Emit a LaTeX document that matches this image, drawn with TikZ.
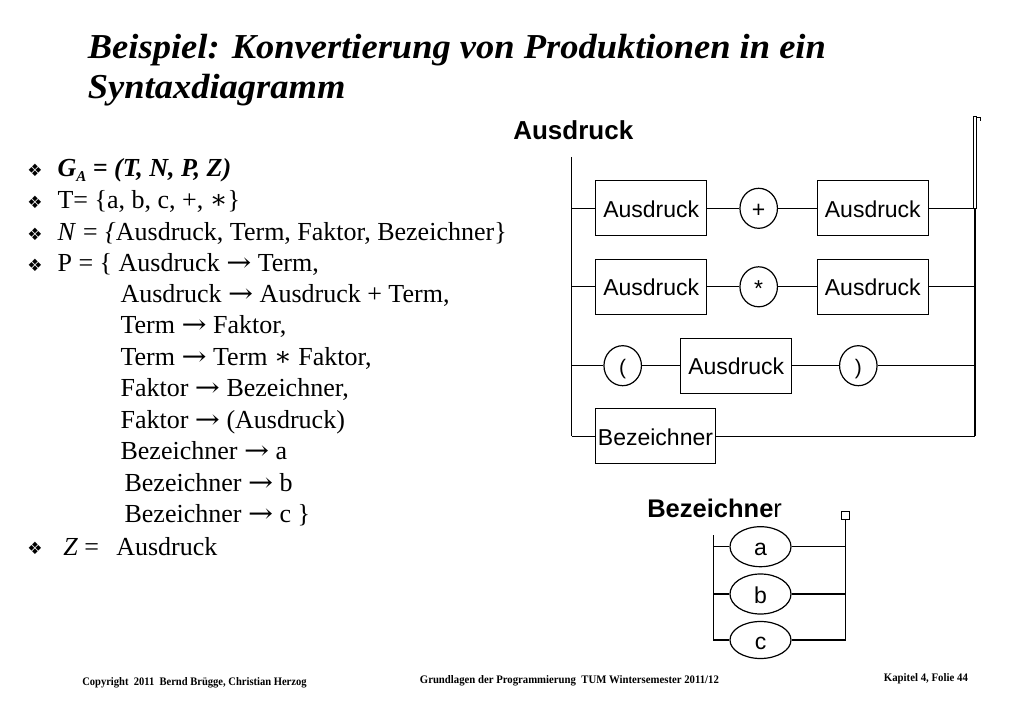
\documentclass[tikz,border=0pt]{standalone}
\usepackage{graphicx}
\usepackage{fontspec}
\setmainfont{Liberation Serif}
\newfontfamily\arialf{Liberation Sans}
\newfontfamily\djvf{DejaVu Sans}
\newfontfamily\djvs{DejaVu Serif}
\usetikzlibrary{shapes.geometric}
\newsavebox\boxTA
\newsavebox\boxTB
\newsavebox\boxFA
\newsavebox\boxFB
\newsavebox\boxFC
\newcommand\prarrow{{\djvs\scalebox{1.15}[1]{→}}}
\newcommand\prast{{\djvs ∗}}
\begin{document}
\sbox\boxTA{\fontsize{35}{40}\selectfont\bfseries\itshape Beispiel: Konvertierung von Produktionen in ein}%
\sbox\boxTB{\fontsize{35}{40}\selectfont\bfseries\itshape Syntaxdiagramm}%
\sbox\boxFA{\fontsize{11.5}{12}\selectfont\bfseries Copyright\ \ 2011\ \ Bernd Brügge, Christian Herzog}%
\sbox\boxFB{\fontsize{11.5}{12}\selectfont\bfseries Grundlagen der Programmierung\ \ TUM Wintersemester 2011/12}%
\sbox\boxFC{\fontsize{11.5}{12}\selectfont\bfseries Kapitel 4, Folie 44}%
\pgfmathsetmacro\tsx{738/\the\wd\boxTA}%
\pgfmathsetmacro\fsa{224.3/\the\wd\boxFA}%
\pgfmathsetmacro\fsb{299/\the\wd\boxFB}%
\pgfmathsetmacro\fsc{84/\the\wd\boxFC}%
\begin{tikzpicture}[x=1pt,y=-1pt,line width=1.2pt,
  sansf/.style={font=\arialf\fontsize{23}{23}\selectfont},
  ntbox/.style={draw,rectangle,minimum width=111pt,minimum height=55pt,inner sep=0pt,
    text height=18pt,text depth=0pt,sansf},
  tmcirc/.style={draw,ellipse,minimum width=37.5pt,minimum height=40pt,inner sep=0pt,
    text height=18pt,text depth=0pt,sansf},
  tmell/.style={draw,ellipse,minimum width=61pt,minimum height=40pt,inner sep=0pt,
    text height=18pt,text depth=0pt,sansf},
  ltxt/.style={anchor=base west,inner sep=0pt,font=\fontsize{26}{30}\selectfont},
  bul/.style={inner sep=0pt,font=\djvf\fontsize{17}{17}\selectfont},
  ftxt/.style={anchor=base west,inner sep=0pt},
  dlabel/.style={anchor=base west,inner sep=0pt}
]
\useasboundingbox[fill=white] (0,0) rectangle (1023,708);

% ---------- title ----------
\node[ftxt] (title1) at (87.3,58.3) {\scalebox{\tsx}[1]{\usebox\boxTA}};
\node[ftxt] (title2) at (87.3,99) {\scalebox{\tsx}[1]{\usebox\boxTB}};

% ---------- footer ----------
\node[ftxt] (foot1) at (81.7,685.5) {\scalebox{\fsa}[1]{\usebox\boxFA}};
\node[ftxt] (foot2) at (419.3,683.5) {\scalebox{\fsb}[1]{\usebox\boxFB}};
\node[ftxt] (foot3) at (883.3,681.5) {\scalebox{\fsc}[1]{\usebox\boxFC}};

% ---------- left list ----------
\node[bul] (b1) at (35,170) {❖};
\node[bul] (b2) at (35,202.5) {❖};
\node[bul] (b3) at (35,234.5) {❖};
\node[bul] (b4) at (35,265.5) {❖};
\node[bul] (b5) at (35,548.5) {❖};
\node[ltxt] (l1) at (57,176.5) {\bfseries\itshape G\raisebox{-5.5pt}{\fontsize{15}{15}\selectfont A} = (T, N, P, Z)};
\node[ltxt] (l2) at (57,209) {T= \{a, b, c, +, \prast\}};
\node[ltxt] (l3) at (57,241) {\textit{N = \{}Ausdruck, Term, Faktor, Bezeichner\}};
\node[ltxt] (l4) at (57,272) {P = \{ Ausdruck \prarrow{} Term,};
\node[ltxt] (l5) at (120,303) {Ausdruck \prarrow{} Ausdruck + Term,};
\node[ltxt] (l6) at (120,334) {Term \prarrow{} Faktor,};
\node[ltxt] (l7) at (120,365.5) {Term \prarrow{} Term \prast{} Faktor,};
\node[ltxt] (l8) at (120,397) {Faktor \prarrow{} Bezeichner,};
\node[ltxt] (l9) at (120,428.5) {Faktor \prarrow{} (Ausdruck)};
\node[ltxt] (l10) at (120,459.5) {Bezeichner \prarrow{} a};
\node[ltxt] (l11) at (124,491) {Bezeichner \prarrow{} b};
\node[ltxt] (l12) at (124,522) {Bezeichner \prarrow{} c \}};
\node[ltxt] (l13) at (62.7,555) {\textit{Z} =};
\node[ltxt] (l13b) at (115.7,555) {Ausdruck};

% ---------- Ausdruck diagram ----------
\node[dlabel,font=\arialf\bfseries\fontsize{26}{26}\selectfont] (labA) at (512.7,139.3) {Ausdruck};

\node[ntbox] (a1) at (651.2,208.3) {Ausdruck};
\node[tmcirc] (plus) at (758.7,208.3) {+};
\node[ntbox] (a2) at (872.8,208.3) {Ausdruck};

\node[ntbox] (b1n) at (651.2,286.8) {Ausdruck};
\node[tmcirc,text height=20pt] (star) at (758.7,286.8) {*};
\node[ntbox] (b2n) at (872.8,286.8) {Ausdruck};

\node[tmcirc,font=\arialf\fontsize{21}{21}\selectfont,text height=17pt] (lp) at (622.7,365.7) {(};
\node[ntbox] (a3) at (736.2,365.7) {Ausdruck};
\node[tmcirc,font=\arialf\fontsize{21}{21}\selectfont,text height=17pt] (rp) at (858.3,365.7) {)};

\node[ntbox,minimum width=119.6pt] (bez) at (655.5,436.2) {Bezeichner};

\coordinate (Ltop) at (571.7,157);
\coordinate (L1) at (571.7,208.3);
\coordinate (L2) at (571.7,286.8);
\coordinate (L3) at (571.7,365.7);
\coordinate (L4) at (571.7,436.2);
\coordinate (R1) at (975,208.3);
\coordinate (R2) at (975,286.8);
\coordinate (R3) at (975,365.7);
\coordinate (R4) at (975,436.2);
\coordinate (Rtop) at (973.3,117);
\coordinate (Rtop2) at (976.7,208.3);

\draw (Ltop) -- (L4);
\draw (R1) -- (R4);
\draw[line width=1pt] (Rtop) rectangle (Rtop2);
\draw[line width=0.8pt] (976.7,117) -- (980,117) -- (980,121);

\draw (L1) -- (a1.west);
\draw (a1.east) -- (plus.west);
\draw (plus.east) -- (a2.west);
\draw (a2.east) -- (R1);

\draw (L2) -- (b1n.west);
\draw (b1n.east) -- (star.west);
\draw (star.east) -- (b2n.west);
\draw (b2n.east) -- (R2);

\draw (L3) -- (lp.west);
\draw (lp.east) -- (a3.west);
\draw (a3.east) -- (rp.west);
\draw (rp.east) -- (R3);

\draw (L4) -- (bez.west);
\draw (bez.east) -- (R4);

% ---------- Bezeichner diagram ----------
\node[dlabel] (labB) at (646.7,517.7) {\arialf\fontsize{25.5}{25}\selectfont\textbf{Bezeichne}r};
\node[draw,rectangle,minimum width=8pt,minimum height=7.5pt,inner sep=0pt,line width=1pt] (sq) at (845.5,515.5) {};

\node[tmell] (ea) at (760.5,546.7) {a};
\node[tmell] (eb) at (760.5,594) {b};
\node[tmell,minimum height=37pt] (ec) at (760.5,640) {c};

\coordinate (BLtop) at (713.3,535);
\coordinate (BL1) at (713.3,546.7);
\coordinate (BL2) at (713.3,594);
\coordinate (BL3) at (713.3,640);
\coordinate (BR1) at (845.5,546.7);
\coordinate (BR2) at (845.5,594);
\coordinate (BR3) at (845.5,640);

\draw (BLtop) -- (BL3);
\draw (sq.south) -- (BR3);
\draw (BL1) -- (ea.west);
\draw (ea.east) -- (BR1);
\draw (BL2) -- (eb.west);
\draw (eb.east) -- (BR2);
\draw (BL3) -- (ec.west);
\draw (ec.east) -- (BR3);
\end{tikzpicture}
\end{document}
